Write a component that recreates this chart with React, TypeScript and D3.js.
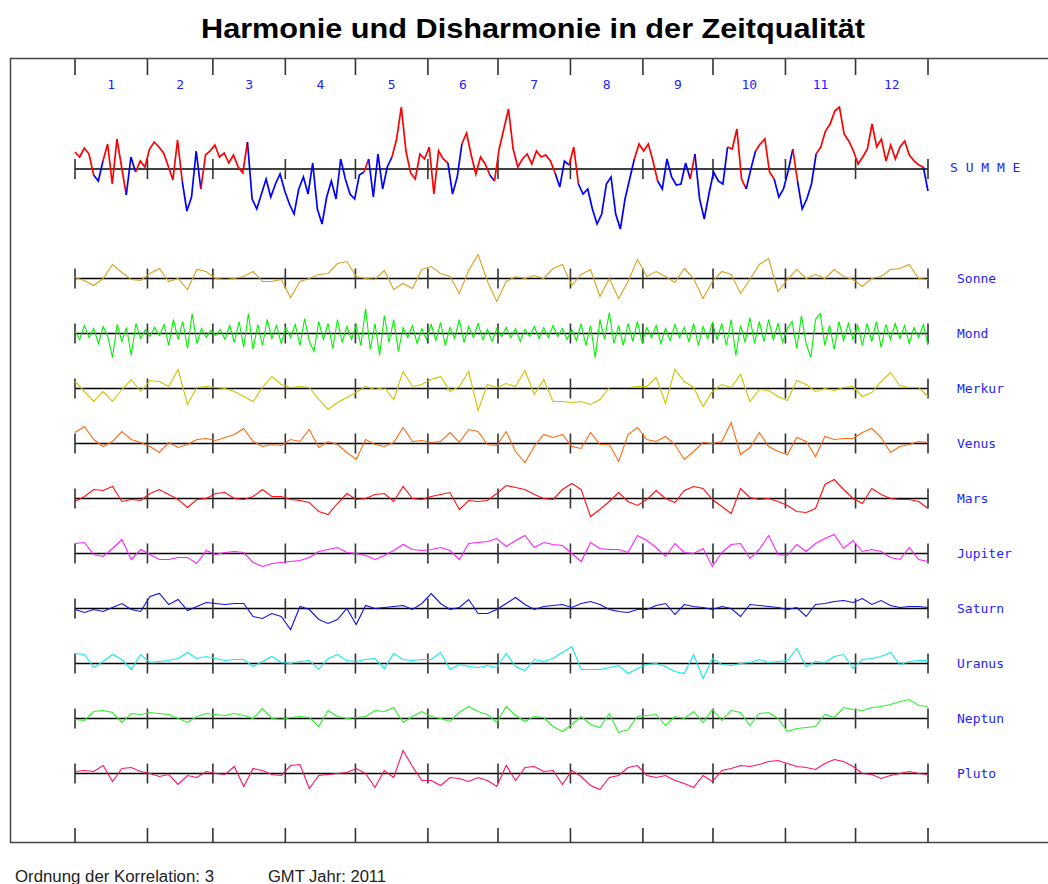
import { useMemo } from "react";
import * as d3 from "d3";

// calendar: first day of each month (day of year), 2011
const monthStarts = [0, 31, 59, 90, 120, 151, 181, 212, 243, 273, 304, 334, 365];
const monthLabels = ["1", "2", "3", "4", "5", "6", "7", "8", "9", "10", "11", "12"];

// SUMME, every 2 days
const summe = [
  17, 12, 21, 15, -6, -12, 8, 25, -15, 30, 2, -26, 12, -3, 8, 2,
  20, 27, 22, 16, 3, -11, 29, -12, -42, -28, 18, -20, 14, 18,
  24, 12, 16, 6, 14, 2, -4, 27, -30, -40, -25, -10, -28, -15, -5,
  -22, -35, -45, -20, -8, -25, 6, -40, -55, -28, -12, -30, 10, -10, -25,
  -30, -6, -3, 10, -28, 15, -20, 2, 12, 30, 62, 18, -4, -10, 15, 10,
  22, -25, 18, 10, 6, -25, -8, 25, 36, 14, -5, 12, 5, -6, -12,
  20, 40, 60, 20, 2, 10, 15, 5, 18, 12, 14, 8, -4, -18, 8, 4,
  22, -15, -25, -20, -40, -55, -45, -15, -8, -45, -60, -30, -10, 10, 25,
  18, 25, 8, -12, -20, 10, -8, -16, -15, 6, -10, 15, -30, -50, -25,
  -3, -12, -15, 22, 20, 40, -10, -20, 0, 18, 25, 30, -3, -10, -28, -20,
  -2, 20, -12, -40, -30, -15, 15, 22, 38, 45, 58, 62, 35, 28, 18,
  5, 12, 20, 45, 22, 30, 8, 24, 10, 22, 28, 14, 8, 4, 2, -22,
];

// planets, every 4 days (Mond every 2 days)
const sonne = [
  1, -2, -7, 0, 14, 6, -1, -2, 5, 10, -3, 0, -11, 9, 7, 0, -1, 0, 2, 7, -3, -3, -1, -19,
  -3, 0, 4, 5, 15, 17, 2, 0, -1, 8, -11, -5, -10, 9, 12, 5, 2, -15, 8, 24, -3, -23,
  -3, 2, 0, 3, 0, 10, 14, -7, 4, 9, -18, 0, -20, -3, 19, 2, 7, 2, -4, 10, 0, -20,
  -3, 7, 4, -15, -1, 14, 20, -13, -1, 9, 0, 4, 0, 9, 2, -1, -8, 0, 2, 9, 10, 14, 0, -1,
];
const mond = [
  2, -6, 8, -4, 5, -10, 7, -3, -24, 9, -8, 6, -22, 10, -5, 4,
  -3, 6, -2, 9, -12, 14, -6, 12, -15, 20, -10, 5, -4, 3,
  -2, 4, -6, 8, -9, 12, -14, 20, -16, 9, -12, 14, -5, 8, -10,
  6, -4, 9, -12, 15, -8, -18, 12, -6, 10, -15, 14, -9, 7, -6,
  8, -12, 25, -16, 10, -22, 18, -9, 14, -18, 6, -4, 8, -10, 5, -6,
  9, -7, 11, -12, 6, -5, 14, -9, 7, -4, 10, -6, 4, -8, 5,
  -3, 6, -4, 5, -8, 4, -3, 7, -5, 6, -4, 8, -3, 5, -6, 4,
  -7, 10, -12, 8, -24, 14, -6, 21, -10, 8, -12, 10, -8, 12, -9,
  6, -4, 8, -10, 5, -7, 9, -4, 6, -8, 10, -12, 7, -5, 11,
  -6, 10, -12, 14, -22, 8, -9, 16, -10, 12, -8, 14, -6, 10, -9, 5,
  12, -15, 18, -10, -24, 14, 20, -12, 8, -16, 12, -7, 10, -6, 8,
  -12, 10, -8, 12, -14, 9, -6, 10, -5, 8, -10, 6, -4, 9, -12,
];
const merkur = [
  7, -3, -13, -3, -13, -1, 9, -3, 8, 7, 2, 19, -16, 1, 2, 1, 0, -3, -8, -13, 1, 12, 4, 1,
  2, 1, -11, -21, -14, -9, -4, 2, -1, 1, -11, 17, 2, 4, 9, 12, -3, 2, 17, -22, 4, 1,
  5, 2, 18, -6, 9, -13, -13, -14, -13, -16, -11, 1, 1, 1, 2, 2, 11, -15, 19, 7, 1, -18,
  -3, 4, 1, 14, -13, -1, -2, -8, -12, 8, 4, -3, 0, -2, 1, 2, -8, -4, 7, 16, 3, 1, 1, -8,
];
const venus = [
  11, 17, 4, -3, 2, 12, 4, 1, -3, -9, 1, -4, -1, 4, 5, 3, 6, 9, 15, 2, -3, -1, -2, 4,
  2, 14, -4, 2, -1, -9, -16, 4, -1, -3, 1, 16, 2, 3, 1, 2, 11, 1, 14, 12, -1, -2,
  12, -8, -19, -3, 9, 6, 9, -3, -5, 11, -1, -1, -18, 9, 16, 4, 2, 7, -1, -16, -8, 1,
  0, 2, 21, -11, -4, 11, -3, -8, -11, 6, 2, -13, 7, 4, 5, 5, 11, 15, 6, -9, -3, -1, 2, 1,
];
const mars = [
  -3, 2, 9, 8, 12, -3, -1, -2, 5, 9, 4, -1, -9, -1, 0, 5, 6, 0, -1, 2, 9, 2, 2, -1,
  -2, -4, -13, -16, -5, 5, -1, 0, 4, 5, -3, 12, 0, -1, 2, 4, 6, -11, -2, -3, -2, 5,
  13, 11, 9, 4, 0, -1, 9, 15, 9, -18, -11, -3, 6, -3, -7, -1, 8, 0, -4, 8, 12, 10,
  -1, -8, -15, 10, 1, -1, 0, -3, -7, -13, -14, -10, 14, 19, 9, 0, -5, 10, 4, 0, -1, -1, -3, -10,
];
const jupiter = [
  10, 11, -1, -3, 5, 14, -6, 4, -1, -6, -6, -4, -4, -10, 3, -1, 1, 2, 1, -9, -13, -10, -9, -8,
  -7, -4, 2, 4, 6, 1, 0, -2, -6, -2, 3, 9, 4, 3, 4, 6, 3, -6, 10, 11, 12, 15,
  7, 13, 18, 6, 11, 9, 8, 0, -8, 11, 5, 4, 4, 1, 18, 13, 6, -3, 10, 1, 0, 5,
  -13, 1, 9, 10, -5, 4, 18, -1, -2, 9, 2, 10, 15, 19, 5, 13, 2, 4, 2, -4, -6, 6, -6, -8,
];
const saturn = [
  -1, -4, -1, -3, 1, 5, -1, -3, 12, 15, 4, 9, -2, 2, 6, 5, 4, 5, 5, -8, -10, -5, -8, -21,
  2, -1, -11, -15, -11, 0, -16, 3, 0, 1, 2, 3, -1, 5, 15, 5, -1, 1, 9, -5, -5, -1,
  5, 11, 4, -1, 2, 3, 4, 1, 5, 7, 4, -1, -3, -4, -1, -1, 3, 5, -6, 4, 2, 1,
  -1, 2, 0, -8, 4, 3, 2, 1, -1, 1, -8, 4, 5, 7, 8, 6, 10, 4, 8, 3, 1, 2, 2, 1,
];
const uranus = [
  10, 9, -4, 2, 9, 4, -6, 9, 1, 2, 3, 5, 11, 5, 7, 5, 3, 4, 4, -3, 2, 7, 1, 0,
  2, 3, -6, 5, 9, 3, 2, 4, 5, -5, 10, 4, 3, 4, 4, 11, -6, -1, -3, -4, -2, -4,
  10, -3, -7, 4, 2, 5, 11, 17, -6, -6, -6, -4, -2, -10, -5, -1, 0, -3, -8, -10, 9, -15,
  5, -1, -2, 0, 1, 4, 1, 2, 3, 15, -3, 2, 1, 7, 9, -5, 4, 5, 7, 11, -1, 2, 3, 3,
];
const neptun = [
  -1, -2, 7, 8, 6, -4, 5, 4, 6, 5, 4, 0, -4, 2, 5, 4, 3, 5, 3, 0, 10, 0, -1, 1,
  2, 1, -8, 8, 2, 0, 1, 2, 8, 7, 11, -4, 2, 7, 2, 0, -3, 6, 12, 7, 4, -4,
  12, 3, -3, 2, 1, -8, -13, -6, 2, -6, -9, 5, -14, -11, 2, 3, 4, -7, 2, 0, 7, -4,
  9, -2, 8, 6, -7, 5, 6, 0, -13, -10, -9, -8, 4, 1, 11, 9, 8, 11, 12, 14, 17, 19, 13, 12,
];
const pluto = [
  2, 3, 2, 8, -8, 5, 6, 2, 0, -3, -1, -11, -2, -4, 2, 0, -1, 7, -13, 5, 3, -1, -2, 8,
  9, -15, -2, -1, 0, 1, 5, 0, -14, 3, -4, 23, 7, -7, -7, -12, -4, -5, -8, -4, -7, -13,
  8, -7, 6, 7, 2, 3, -11, 3, -3, -12, -16, -4, -2, 6, 8, -2, -4, -2, -7, -10, -14, -2,
  -8, 3, 5, 8, 7, 9, 12, 13, 10, 7, 6, 4, 10, 14, 12, 7, 0, -1, -5, -2, 0, 2, 0, -1,
];

const planetNames = ["Sonne", "Mond", "Merkur", "Venus", "Mars", "Jupiter", "Saturn", "Uranus", "Neptun", "Pluto"];
const planetSeries = [sonne, mond, merkur, venus, mars, jupiter, saturn, uranus, neptun, pluto];
const planetColors = ["#d9a21e", "#00f000", "#cfc400", "#ff6a10", "#ff1010", "#ff20ff", "#1010e0", "#10eaea", "#30ee30", "#ff1066"];

const W = 1048;
const H = 884;
const x0 = 75;
const x1 = 928;
const summeBase = 169;
const rowBase0 = 278.5;
const rowStep = 55;

const monoFont = "'DejaVu Sans Mono', monospace";
const sansFont = "'Liberation Sans', Arial, sans-serif";

function linePath(values: number[], base: number) {
  const xs = d3.scaleLinear().domain([0, values.length - 1]).range([x0, x1]);
  const ys = d3.scaleLinear().domain([-1, 1]).range([base + 1, base - 1]);
  return d3
    .line<number>()
    .x((_, i) => xs(i))
    .y((d) => ys(d))(values) as string;
}

function Ticks({ y1, y2 }: { y1: number; y2: number }) {
  const xd = d3.scaleLinear().domain([0, 365]).range([x0, x1]);
  return (
    <g stroke="#333" strokeWidth={1.6}>
      {monthStarts.map((d) => (
        <line key={d} x1={xd(d)} x2={xd(d)} y1={y1} y2={y2} />
      ))}
    </g>
  );
}

export default function App() {
  const xd = d3.scaleLinear().domain([0, 365]).range([x0, x1]);

  // red/blue runs for SUMME, coloured by the sign of a short running mean
  const summeRuns = useMemo(() => {
    const xs = d3.scaleLinear().domain([0, summe.length - 1]).range([x0, x1]);
    const ys = d3.scaleLinear().domain([-1, 1]).range([summeBase + 1, summeBase - 1]);
    const flag = summe.map((_, i) => {
      const a = summe.slice(Math.max(0, i - 1), i + 2);
      return d3.mean(a)! >= 0;
    });
    const runs: { red: boolean; d: string }[] = [];
    let start = 0;
    for (let i = 1; i <= summe.length; i++) {
      if (i === summe.length || flag[i] !== flag[start]) {
        const idx = d3.range(start, Math.min(i + 1, summe.length));
        const d = d3
          .line<number>()
          .x((k) => xs(k))
          .y((k) => ys(summe[k]))(idx) as string;
        runs.push({ red: flag[start], d });
        start = i;
      }
    }
    return runs;
  }, []);

  return (
    <svg width={W} height={H} style={{ position: "absolute", left: 0, top: 0, background: "#fff" }}>
      <rect x={0} y={0} width={W} height={H} fill="#fff" />
      <text x={533} y={38} textAnchor="middle" fontFamily={sansFont} fontWeight="bold" fontSize={28} textLength={664} lengthAdjust="spacingAndGlyphs">
        Harmonie und Disharmonie in der Zeitqualität
      </text>
      <rect x={10.5} y={58.5} width={1100} height={784} fill="none" stroke="#444" strokeWidth={1.5} />

      <Ticks y1={59} y2={75} />
      {monthLabels.map((m, i) => (
        <text key={m} x={xd((monthStarts[i] + monthStarts[i + 1]) / 2)} y={89} textAnchor="middle" fill="#2222ff" fontFamily={monoFont} fontSize={13}>
          {m}
        </text>
      ))}

      {/* SUMME */}
      <line x1={x0} x2={x1} y1={summeBase} y2={summeBase} stroke="#000" strokeWidth={1.5} />
      <Ticks y1={summeBase - 10} y2={summeBase + 10} />
      {summeRuns.map((r, i) => (
        <path key={i} d={r.d} fill="none" stroke={r.red ? "#ff0000" : "#0000ff"} strokeWidth={1.7} />
      ))}
      <text x={950} y={172} fill="#2222ff" fontFamily={monoFont} fontSize={13} letterSpacing={7.8}>
        SUMME
      </text>

      {planetSeries.map((vals, r) => {
        const base = rowBase0 + r * rowStep;
        return (
          <g key={planetNames[r]}>
            <line x1={x0} x2={x1} y1={base} y2={base} stroke="#000" strokeWidth={1.5} />
            <Ticks y1={base - 10} y2={base + 10} />
            <path d={linePath(vals, base)} fill="none" stroke={planetColors[r]} strokeWidth={1.1} />
            <text x={957} y={base + 4} fill="#2222ff" fontFamily={monoFont} fontSize={13}>
              {planetNames[r]}
            </text>
          </g>
        );
      })}

      <Ticks y1={828} y2={843} />

      <text x={15} y={882} fill="#222" fontFamily={sansFont} fontSize={16} textLength={199} lengthAdjust="spacingAndGlyphs">
        Ordnung der Korrelation: 3
      </text>
      <text x={268} y={882} fill="#222" fontFamily={sansFont} fontSize={16} textLength={118} lengthAdjust="spacingAndGlyphs">
        GMT Jahr: 2011
      </text>
    </svg>
  );
}
